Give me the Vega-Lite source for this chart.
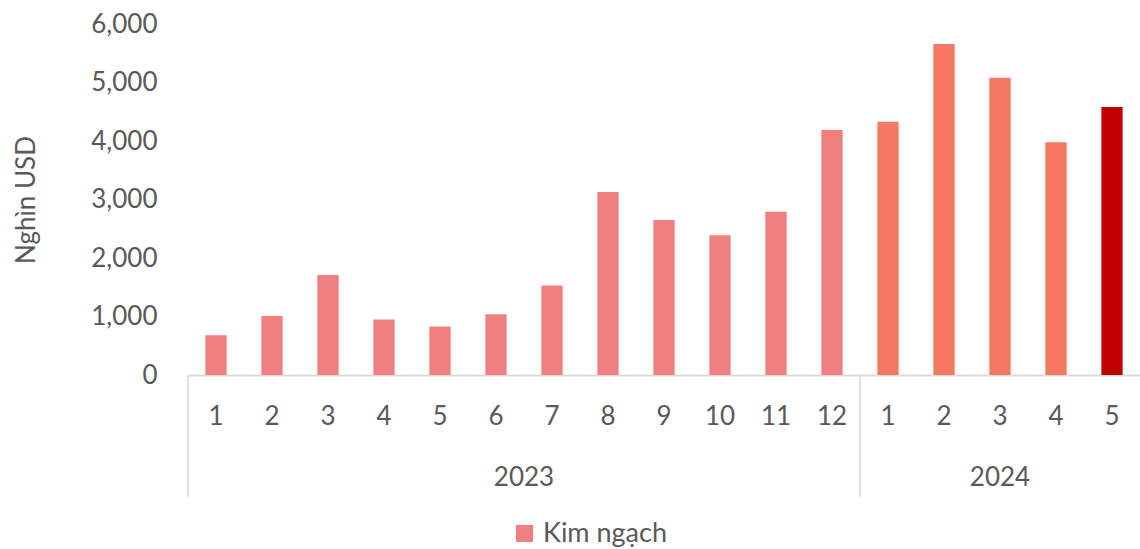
{
  "$schema": "https://vega.github.io/schema/vega-lite/v6.json",
  "width": 952,
  "height": 351,
  "autosize": {"type": "none"},
  "padding": {"left": 188, "top": 24, "right": 0, "bottom": 174},
  "background": "white",
  "config": {
    "view": {"stroke": null},
    "font": "Lato",
    "axisX": {
      "labelExpr": "split(datum.label, '-')[1]",
      "domainColor": "#D9D9D9",
      "domainWidth": 2,
      "ticks": false,
      "grid": false,
      "labelPadding": 28,
      "labelFontSize": 26,
      "labelColor": "#595959",
      "labelAngle": 0,
      "title": null
    },
    "axisY": {
      "domain": false,
      "ticks": false,
      "grid": false,
      "labelPadding": 31,
      "labelFontSize": 26,
      "labelColor": "#595959",
      "titleFontSize": 26,
      "titleFontWeight": "normal",
      "titleColor": "#595959",
      "titlePadding": 51,
      "format": ",d"
    }
  },
  "data": {
    "values": [
      {"period": "2023-1", "year": 2023, "month": 1, "value": 680},
      {"period": "2023-2", "year": 2023, "month": 2, "value": 1010},
      {"period": "2023-3", "year": 2023, "month": 3, "value": 1710},
      {"period": "2023-4", "year": 2023, "month": 4, "value": 950},
      {"period": "2023-5", "year": 2023, "month": 5, "value": 830},
      {"period": "2023-6", "year": 2023, "month": 6, "value": 1040},
      {"period": "2023-7", "year": 2023, "month": 7, "value": 1530},
      {"period": "2023-8", "year": 2023, "month": 8, "value": 3130},
      {"period": "2023-9", "year": 2023, "month": 9, "value": 2650},
      {"period": "2023-10", "year": 2023, "month": 10, "value": 2390},
      {"period": "2023-11", "year": 2023, "month": 11, "value": 2790},
      {"period": "2023-12", "year": 2023, "month": 12, "value": 4190},
      {"period": "2024-1", "year": 2024, "month": 1, "value": 4330},
      {"period": "2024-2", "year": 2024, "month": 2, "value": 5660},
      {"period": "2024-3", "year": 2024, "month": 3, "value": 5080},
      {"period": "2024-4", "year": 2024, "month": 4, "value": 3980},
      {"period": "2024-5", "year": 2024, "month": 5, "value": 4580}
    ]
  },
  "layer": [
    {
      "mark": {"type": "bar", "width": {"band": 0.38}},
      "encoding": {
        "x": {
          "field": "period",
          "type": "nominal",
          "sort": null,
          "title": null,
          "scale": {
            "paddingInner": 0,
            "paddingOuter": 0,
            "domain": ["2023-1","2023-2","2023-3","2023-4","2023-5","2023-6","2023-7","2023-8","2023-9","2023-10","2023-11","2023-12","2024-1","2024-2","2024-3","2024-4","2024-5"]
          }
        },
        "y": {
          "field": "value",
          "type": "quantitative",
          "title": "Nghìn USD",
          "scale": {"domain": [0, 6000], "nice": false},
          "axis": {"values": [0, 1000, 2000, 3000, 4000, 5000, 6000]}
        },
        "color": {
          "datum": "Kim ngạch",
          "type": "nominal",
          "scale": {"range": ["#F08080"]},
          "legend": {
            "orient": "none",
            "legendX": 323,
            "legendY": 496,
            "title": null,
            "symbolType": "square",
            "symbolSize": 289,
            "symbolStrokeWidth": 0,
            "labelFontSize": 27,
            "labelColor": "#595959",
            "labelOffset": 5
          },
          "condition": [
            {"test": "datum.year == 2024 && datum.month == 5", "value": "#C00000"},
            {"test": "datum.year == 2024", "value": "#F47864"}
          ]
        }
      }
    },
    {
      "transform": [{"filter": "datum.month == 1"}],
      "mark": {"type": "rule", "color": "#D9D9D9", "strokeWidth": 1.5},
      "encoding": {
        "x": {"field": "period", "type": "nominal", "sort": null, "title": null, "bandPosition": 0},
        "y": {"datum": 0},
        "y2": {"datum": -2085}
      }
    },
    {
      "transform": [{"filter": "datum.year == 2023 && datum.month == 6"}],
      "mark": {"type": "text", "fontSize": 26, "color": "#595959", "baseline": "middle", "align": "center"},
      "encoding": {
        "x": {"field": "period", "type": "nominal", "sort": null, "title": null, "bandPosition": 1},
        "y": {"datum": -1760},
        "text": {"field": "year", "type": "nominal"}
      }
    },
    {
      "transform": [{"filter": "datum.year == 2024 && datum.month == 3"}],
      "mark": {"type": "text", "fontSize": 26, "color": "#595959", "baseline": "middle", "align": "center"},
      "encoding": {
        "x": {"field": "period", "type": "nominal", "sort": null, "title": null, "bandPosition": 0.5},
        "y": {"datum": -1760},
        "text": {"field": "year", "type": "nominal"}
      }
    }
  ]
}
